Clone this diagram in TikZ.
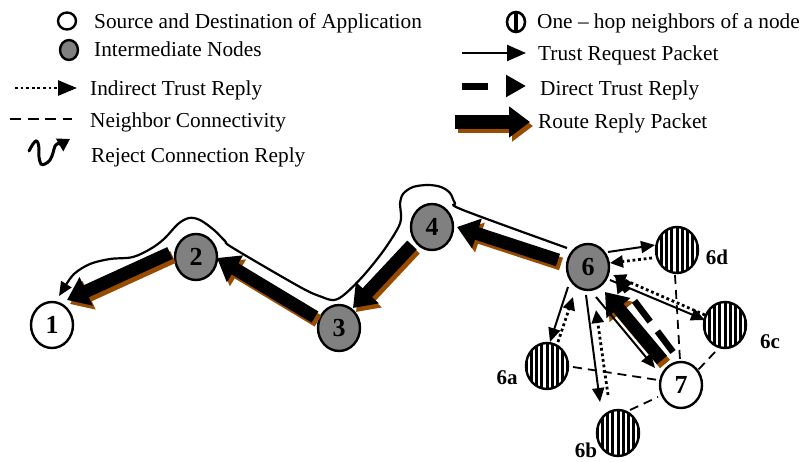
\documentclass[tikz,border=0pt]{standalone}
\usepackage{fontspec}
\setmainfont{Liberation Serif}
\usetikzlibrary{arrows.meta,shapes.geometric,calc}
\definecolor{shadowbrown}{RGB}{153,76,0}
\definecolor{nodegray}{RGB}{128,128,128}
\begin{document}
\begin{tikzpicture}[x=1pt,y=-1pt,
 every node/.style={inner sep=0pt},
 legtext/.style={anchor=base west, font=\fontsize{21.3}{24}\selectfont},
 nd/.style={ellipse, draw=black, line width=2.4pt, minimum width=42pt, minimum height=46pt, font=\bfseries\fontsize{26}{26}\selectfont},
 endnode/.style={nd, fill=white},
 midnode/.style={nd, fill=nodegray},
 stripednode/.style={nd, fill=white, path picture={\foreach \i in {-4,...,4}{\fill[black] ($(path picture bounding box.center)+(\i*5.2-1.5,-30)$) rectangle ($(path picture bounding box.center)+(\i*5.2+1.5,30)$);}}},
 lbl/.style={font=\bfseries\fontsize{21}{21}\selectfont},
 request/.style={line width=2pt, -{Triangle[length=14pt,width=12pt]}},
 indirect/.style={line width=2.8pt, dash pattern=on 2.8pt off 2.8pt, -{Triangle[length=13pt,width=12pt]}},
 direct/.style={line width=6.5pt, dash pattern=on 26pt off 12pt, -{Triangle[length=17pt,width=18pt]}},
 neighbor/.style={line width=1.8pt, dash pattern=on 9pt off 6pt},
 route/.style={line width=13pt, -{Triangle[length=21pt,width=30pt]}},
 routeshadow/.style={route, draw=shadowbrown, color=shadowbrown},
 curvepath/.style={line width=2.2pt, -{Triangle[length=14pt,width=12pt]}},
 reject/.style={line width=3pt, line cap=round, -{Triangle[length=12pt,width=14pt]}}
]
\useasboundingbox (0,0) rectangle (801,461);

% ---------- Legend ----------
\node[ellipse, draw, line width=2.4pt, fill=white, minimum width=18pt, minimum height=17pt] (lsrc) at (67,21) {};
\node[legtext] (tsrc) at (94,28) {Source and Destination of Application};
\node[ellipse, draw, line width=2.4pt, fill=nodegray, minimum width=18pt, minimum height=20pt] (lmid) at (69,50) {};
\node[legtext] (tmid) at (94,56) {Intermediate Nodes};
\coordinate (lind1) at (15,88); \coordinate (lind2) at (77,88);
\draw[indirect, -{Triangle[length=19pt,width=15pt]}] (lind1) -- (lind2);
\node[legtext] (tind) at (90,95) {Indirect Trust Reply};
\coordinate (lnb1) at (10,119); \coordinate (lnb2) at (72,119);
\draw[line width=2.2pt, dash pattern=on 11pt off 6.5pt] (lnb1) -- (lnb2);
\node[legtext] (tnb) at (90,127) {Neighbor Connectivity};
\draw[reject] plot[smooth, tension=0.6] coordinates {(29,151) (33,144) (36,141) (38,143) (39,149) (39,157) (41,164) (45,164) (50,160) (53,153) (55,146) (59,143) (63,143)} -- (70,139);
\node[legtext] (trej) at (91,162) {Reject Connection Reply};

\node[ellipse, draw, line width=2.6pt, fill=white, minimum width=18pt, minimum height=20pt,
  path picture={\fill[black] ($(path picture bounding box.center)+(-1.7,-12)$) rectangle ($(path picture bounding box.center)+(1.7,12)$);}] (lnbr) at (516,22) {};
\node[legtext] (tnbr) at (537,28) {One -- hop neighbors of a node};
\coordinate (lreq1) at (462,53); \coordinate (lreq2) at (526,53);
\draw[request, line width=2.2pt, -{Triangle[length=19pt,width=16pt]}] (lreq1) -- (lreq2);
\node[legtext] (treq) at (538,60) {Trust Request Packet};
\coordinate (ldir1) at (462,86); \coordinate (ldir2) at (526,86);
\draw[line width=7pt, dash pattern=on 26pt off 40pt, -{Triangle[length=20pt,width=21pt]}] (ldir1) -- (ldir2);
\node[legtext] (tdir) at (540,95) {Direct Trust Reply};
\coordinate (lrr1) at (455,122); \coordinate (lrr2) at (530,122);
\begin{scope}[transform canvas={shift={(3pt,-4pt)}}]
\draw[line width=14pt, draw=shadowbrown, color=shadowbrown, -{Triangle[length=21pt,width=30pt]}] (lrr1) -- (lrr2);
\end{scope}
\draw[line width=14pt, -{Triangle[length=21pt,width=30pt]}] (lrr1) -- (lrr2);
\node[legtext] (trr) at (538,128) {Route Reply Packet};

% ---------- Nodes ----------
\node[endnode] (n1) at (52,325) {1};
\node[midnode] (n2) at (196,257) {2};
\node[midnode] (n3) at (339,328) {3};
\node[midnode] (n4) at (432,227) {4};
\node[midnode] (n6) at (588,267) {6};
\node[stripednode] (n6d) at (677,250) {};
\node[stripednode] (n6c) at (725,325) {};
\node[stripednode] (n6a) at (547,366) {};
\node[stripednode] (n6b) at (618,433) {};
\node[endnode] (n7) at (681,385) {7};
\node[lbl] (l6d) at (717,257) {6d};
\node[lbl] (l6c) at (770,342) {6c};
\node[lbl] (l6a) at (507,378) {6a};
\node[lbl] (l6b) at (586,450) {6b};

% ---------- Neighbor connectivity ----------
\draw[neighbor] ($(n6d)+(-2,25)$) -- ($(n7)+(-1,-25)$);
\draw[neighbor] ($(n6c)+(-10,27)$) -- ($(n7)+(17,-15)$);
\draw[neighbor] ($(n6a)+(26,1)$) -- ($(n7)+(-23,-5)$);
\draw[neighbor] ($(n6b)+(12,-23)$) -- ($(n7)+(-23,12)$);

% ---------- Route request path (curve) ----------
\draw[curvepath] plot[smooth, tension=0.55] coordinates {($(n6)+(-21,-19)$) (463,210) (455,203) (450,193) (441,187) (428,185) (413,187) (403,194) (400,204) (401,214) (399,226) (384,250) (364,275) (345,294) (334,300) (322,297) (300,287) (233,248) (225,241) (214,230) (200,220) (189,218) (178,224) (165,238) (152,248) (133,257) (110,259) (90,264) (74,274) (64,288)} -- ($(n1)+(7,-29)$);

% ---------- Route reply shadows ----------
\begin{scope}[transform canvas={shift={(3pt,-4pt)}}]
\draw[routeshadow] ($(n6)+(-30,-7)$) -- ($(n4)+(25,0)$);
\draw[routeshadow] ($(n4)+(-20,18)$) -- ($(n3)+(14,-20)$);
\draw[routeshadow] ($(n3)+(-24,-11)$) -- ($(n2)+(21,1)$);
\draw[routeshadow] ($(n2)+(-26,-4)$) -- ($(n1)+(15,-25)$);
\draw[routeshadow] ($(n7)+(-19,-25)$) -- ($(n6)+(17,25)$);
\end{scope}
% ---------- Route reply arrows ----------
\draw[route] ($(n6)+(-30,-7)$) -- ($(n4)+(25,0)$);
\draw[route] ($(n4)+(-20,18)$) -- ($(n3)+(14,-20)$);
\draw[route] ($(n3)+(-24,-11)$) -- ($(n2)+(21,1)$);
\draw[route] ($(n2)+(-26,-4)$) -- ($(n1)+(15,-25)$);
\draw[route] ($(n7)+(-19,-25)$) -- ($(n6)+(17,25)$);

% ---------- Direct trust reply ----------
\draw[direct] ($(n7)+(-8,-33)$) -- ($(n6)+(27,8)$);

% ---------- Trust requests ----------
\draw[request] ($(n6)+(8,30)$) -- ($(n7)+(-26,-17)$);
\draw[request] ($(n6)+(20,-15)$) -- ($(n6d)+(-22,-5)$);
\draw[request] ($(n6)+(22,13)$) -- ($(n6c)+(-20,-5)$);
\draw[request] ($(n6)+(-20,20)$) -- ($(n6a)+(3,-24)$);
\draw[request] ($(n6)+(-2,28)$) -- ($(n6b)+(-18,-31)$);

% ---------- Indirect trust replies ----------
\draw[indirect] ($(n6d)+(-25,8)$) -- ($(n6)+(22,-4)$);
\draw[indirect] ($(n6c)+(-20,-10)$) -- ($(n6)+(25,8)$);
\draw[indirect] ($(n6a)+(11,-24)$) -- ($(n6)+(-15,30)$);
\draw[indirect] ($(n6b)+(-10,-38)$) -- ($(n6)+(8,43)$);
\end{tikzpicture}
\end{document}
